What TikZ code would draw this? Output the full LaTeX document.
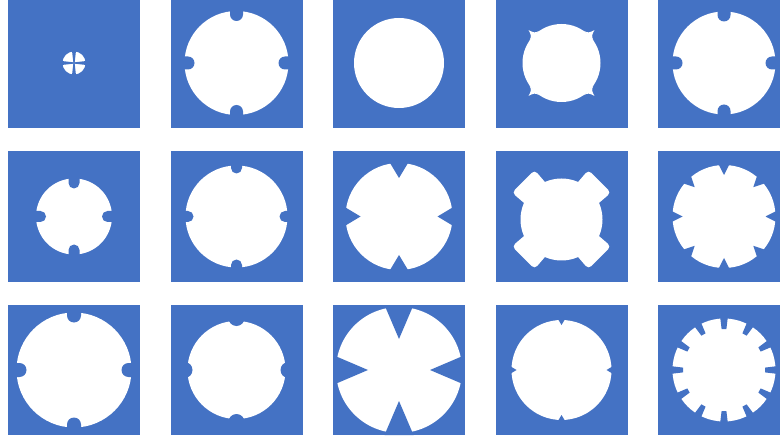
\documentclass[tikz,border=0pt]{standalone}
\usetikzlibrary{positioning}
\definecolor{tileblue}{HTML}{4472C4}
\begin{document}
\begin{tikzpicture}[x=1pt,y=-1pt,tile/.style={fill=tileblue,minimum width=132pt,minimum height=130pt,inner sep=0pt,outer sep=0pt},hole/.style={fill=white},cut/.style={fill=tileblue},node distance=23.5pt and 30.5pt]
        \useasboundingbox (0,0) rectangle (780,441);
        \fill[white] (0,0) rectangle (780,441);
        \node[tile] (a1) at (74,63) {};
        \node[tile,right=of a1] (a2) {};
        \node[tile,right=of a2] (a3) {};
        \node[tile,right=of a3] (a4) {};
        \node[tile,right=of a4] (a5) {};
        \node[tile,below=of a1] (b1) {};
        \node[tile,right=of b1] (b2) {};
        \node[tile,right=of b2] (b3) {};
        \node[tile,right=of b3] (b4) {};
        \node[tile,right=of b4] (b5) {};
        \node[tile,below=of b1] (c1) {};
        \node[tile,right=of c1] (c2) {};
        \node[tile,right=of c2] (c3) {};
        \node[tile,right=of c3] (c4) {};
        \node[tile,right=of c4] (c5) {};
        % first row
        \begin{scope}[shift={(a1.center)}]
            \fill[hole] (0,0) circle (11.5);
            \foreach \a in {0,90,180,270} \fill[cut,rotate=\a] (0,-0.6) -- (14,-2.2) -- (14,2.2) -- (0,0.6) -- cycle;
        \end{scope}
        \begin{scope}[shift={(a2.center)}]
            \fill[hole] (0,0) circle (52);
            \foreach \a in {0,90,180,270} \fill[cut,rotate=\a,rounded corners=6.5pt] (42,-6.5) rectangle (63,6.5);
        \end{scope}
        \begin{scope}[shift={(a3.center)}]
            \fill[hole] (0,0) circle (45);
        \end{scope}
        \begin{scope}[shift={(a4.center)}]
            \fill[hole] (0,0) circle (39);
            \foreach \a in {45,135,225,315} \fill[hole,rotate=\a] (38.4,-6.8) .. controls (40.5,-2) .. (46.5,0) .. controls (40.5,2) .. (38.4,6.8) -- cycle;
        \end{scope}
        \begin{scope}[shift={(a5.center)}]
            \fill[hole] (0,0) circle (51.5);
            \foreach \a in {0,90,180,270} \fill[cut,rotate=\a,rounded corners=6.5pt] (41.5,-6.5) rectangle (63,6.5);
        \end{scope}
        % second row
        \begin{scope}[shift={(b1.center)}]
            \fill[hole] (0,0) circle (38);
            \foreach \a in {0,90,180,270} \fill[cut,rotate=\a,rounded corners=5.5pt] (28,-5.5) rectangle (50,5.5);
        \end{scope}
        \begin{scope}[shift={(b2.center)}]
            \fill[hole] (0,0) circle (51);
            \foreach \a in {0,90,180,270} \fill[cut,rotate=\a,rounded corners=5.5pt] (43,-5.5) rectangle (62,5.5);
        \end{scope}
        \begin{scope}[shift={(b3.center)}]
            \fill[hole] (0,0) circle (53.5);
            \foreach \a in {0,90,180,270} \fill[cut,rotate=\a] (38.5,0) -- (58,-11.7) -- (58,11.7) -- cycle;
        \end{scope}
        \begin{scope}[shift={(b4.center)}]
            \fill[hole] (0,3) circle (41);
            \foreach \a in {45,135,225,315} \fill[hole,shift={(0,3)},rotate=\a,rounded corners=4pt] (28,-14) -- (54,-16) -- (54,16) -- (28,14) -- cycle;
        \end{scope}
        \begin{scope}[shift={(b5.center)}]
            \fill[hole] (0,0) circle (51.5);
            \foreach \a in {0,45,...,315} \fill[cut,rotate=\a] (41.5,0) -- (56,-7.3) -- (56,7.3) -- cycle;
        \end{scope}
        % third row
        \begin{scope}[shift={(c1.center)}]
            \fill[hole] (0,0) circle (57.5);
            \foreach \a in {0,90,180,270} \fill[cut,rotate=\a,rounded corners=7pt] (47.5,-7) rectangle (64,7);
        \end{scope}
        \begin{scope}[shift={(c2.center)}]
            \fill[hole] (0,0) circle (49);
            \foreach \a in {0,90,180,270} \fill[cut,rotate=\a] (52,0) circle (8);
        \end{scope}
        \begin{scope}[shift={(c3.center)}]
            \fill[hole] (0,0) circle (63);
            \foreach \a in {0,90,180,270} \fill[cut,rotate=\a] (31,0) -- (65,-14.5) -- (65,14.5) -- cycle;
        \end{scope}
        \begin{scope}[shift={(c4.center)}]
            \fill[hole] (0,0) circle (50);
            \foreach \a in {0,90,180,270} \fill[cut,rotate=\a] (45,0) -- (54,-5.4) -- (54,5.4) -- cycle;
        \end{scope}
        \begin{scope}[shift={(c5.center)}]
            \fill[hole] (0,0) circle (51.5);
            \foreach \a in {0,30,...,330} \fill[cut,rotate=\a] (41,-2.4) -- (56,-4.2) -- (56,4.2) -- (41,2.4) -- cycle;
        \end{scope}
\end{tikzpicture}
\end{document}
